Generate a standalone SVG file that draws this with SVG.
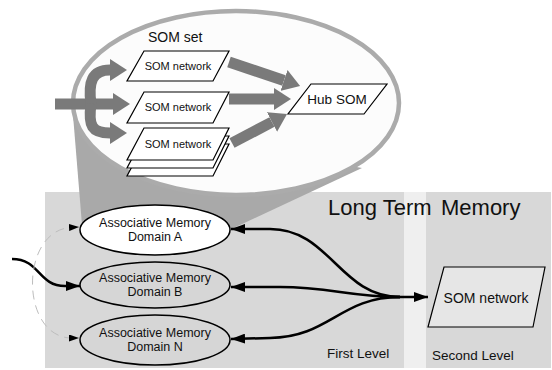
<svg xmlns="http://www.w3.org/2000/svg" width="552" height="370" viewBox="0 0 552 370">
<style>
  text { font-family: "Liberation Sans", Arial, sans-serif; fill: #111; }
  .para { fill: #ffffff; stroke: #000; stroke-width: 1.2; }
  .dom { stroke: #000; stroke-width: 1.5; }
  .blk { fill: none; stroke: #000; stroke-width: 2.5; }
  .gry { fill: none; stroke: #7a7a7a; stroke-width: 11; }
  .dash { fill: none; stroke: #bdbdbd; stroke-width: 1; stroke-dasharray: 9 6; }
</style>
<defs>
  <marker id="bh" markerUnits="userSpaceOnUse" viewBox="0 0 14 10" refX="14" refY="5" markerWidth="14" markerHeight="10" orient="auto">
    <path d="M0,0 L14,5 L0,10 z" fill="#000"/>
  </marker>
  <marker id="sh" markerUnits="userSpaceOnUse" viewBox="0 0 10 7" refX="10" refY="3.5" markerWidth="10" markerHeight="7" orient="auto-start-reverse">
    <path d="M0,0 L10,3.5 L0,7 z" fill="#000"/>
  </marker>
  <marker id="gh" markerUnits="userSpaceOnUse" viewBox="0 -11 17 22" refX="0" refY="0" markerWidth="17" markerHeight="22" orient="auto">
    <path d="M0,-11 L17,0 L0,11 z" fill="#7a7a7a"/>
  </marker>
</defs>

<g id="background">
  <rect x="45" y="192" width="359" height="176" fill="#d8d8d8"/>
  <rect x="404" y="192" width="22" height="176" fill="#efefef"/>
  <rect x="426" y="192" width="125" height="176" fill="#d8d8d8"/>
</g>

<g id="callout">
  <polygon points="73,115 82,225 225,232 362,168" fill="#a9a9a9"/>
  <ellipse cx="236" cy="103" rx="163" ry="92" fill="#fcfcfc" stroke="#ababab" stroke-width="4.5"/>
  <text x="148" y="42" font-size="14">SOM set</text>
</g>

<g id="som-network-1">
  <polygon class="para" points="144,51 229,51 213,81 127,81"/>
  <text x="178" y="70" font-size="11" text-anchor="middle">SOM network</text>
</g>
<g id="som-network-2">
  <polygon class="para" points="144,92 229,92 213,123 127,123"/>
  <text x="178" y="111" font-size="11" text-anchor="middle">SOM network</text>
</g>
<g id="som-network-3">
  <polygon class="para" points="144,144 229,144 213,176 127,176"/>
  <polygon class="para" points="144,136 229,136 213,168 127,168"/>
  <polygon class="para" points="144,128 229,128 213,160 127,160"/>
  <text x="178" y="148" font-size="11" text-anchor="middle">SOM network</text>
</g>
<g id="hub-som">
  <polygon class="para" points="311,84 387,84 364,114 288,114"/>
  <text x="337" y="104" font-size="13.5" text-anchor="middle">Hub SOM</text>
</g>

<g id="domain-a">
  <ellipse class="dom" cx="155" cy="230" rx="75" ry="25" fill="#ffffff"/>
  <text x="155" y="227" font-size="12.5" text-anchor="middle">Associative Memory</text>
  <text x="155" y="241" font-size="12.5" text-anchor="middle">Domain A</text>
</g>
<g id="domain-b">
  <ellipse class="dom" cx="155" cy="285" rx="75" ry="23" fill="#d6d6d6"/>
  <text x="155" y="282" font-size="12.5" text-anchor="middle">Associative Memory</text>
  <text x="155" y="296" font-size="12.5" text-anchor="middle">Domain B</text>
</g>
<g id="domain-n">
  <ellipse class="dom" cx="155" cy="340" rx="75" ry="25" fill="#d6d6d6"/>
  <text x="155" y="337" font-size="12.5" text-anchor="middle">Associative Memory</text>
  <text x="155" y="351" font-size="12.5" text-anchor="middle">Domain N</text>
</g>

<g id="som-network-second">
  <polygon points="444,267 545,267 533,327 428,327" fill="#e6e6e6" stroke="#000" stroke-width="1.2"/>
  <text x="486" y="303" font-size="14" text-anchor="middle">SOM network</text>
</g>

<g id="labels">
  <text x="328" y="215" font-size="22">Long Term</text>
  <text x="441" y="215" font-size="22">Memory</text>
  <text x="327" y="358" font-size="13.5">First Level</text>
  <text x="432" y="360" font-size="13.5">Second Level</text>
</g>

<g id="connectors">
  <!-- input fork -->
  <path class="gry" d="M55 104 L113 104" marker-end="url(#gh)"/>
  <path class="gry" d="M91 104 C88 82 92 70 110 70" marker-end="url(#gh)"/>
  <path class="gry" d="M91 104 C88 126 92 133 110 133" marker-end="url(#gh)"/>
  <!-- to hub -->
  <path class="gry" stroke-width="10" d="M229 62 L284 80.5" marker-end="url(#gh)"/>
  <path class="gry" stroke-width="10" d="M229 99 L274 99" marker-end="url(#gh)"/>
  <path class="gry" stroke-width="10" d="M232 143 L272 122" marker-end="url(#gh)"/>
  <!-- first to second level -->
  <path class="blk" d="M400 297 C340 297 330 229 270 229 L231 229" marker-end="url(#bh)"/>
  <path class="blk" d="M400 297 C350 297 330 287 280 287 L231 287" marker-end="url(#bh)"/>
  <path class="blk" d="M400 297 C340 297 330 337 270 338 L231 339" marker-end="url(#bh)"/>
  <path class="blk" d="M380 297 L428 297" marker-end="url(#bh)"/>
  <!-- external input -->
  <path class="blk" d="M12 259 C40 259 38 286 65 286 L80 286" marker-end="url(#bh)"/>
  <!-- dashed association -->
  <path class="dash" d="M79 227 L70 227.5 C20 232 20 335 70 338 L79 338" marker-start="url(#sh)" marker-end="url(#sh)"/>
</g>
</svg>
